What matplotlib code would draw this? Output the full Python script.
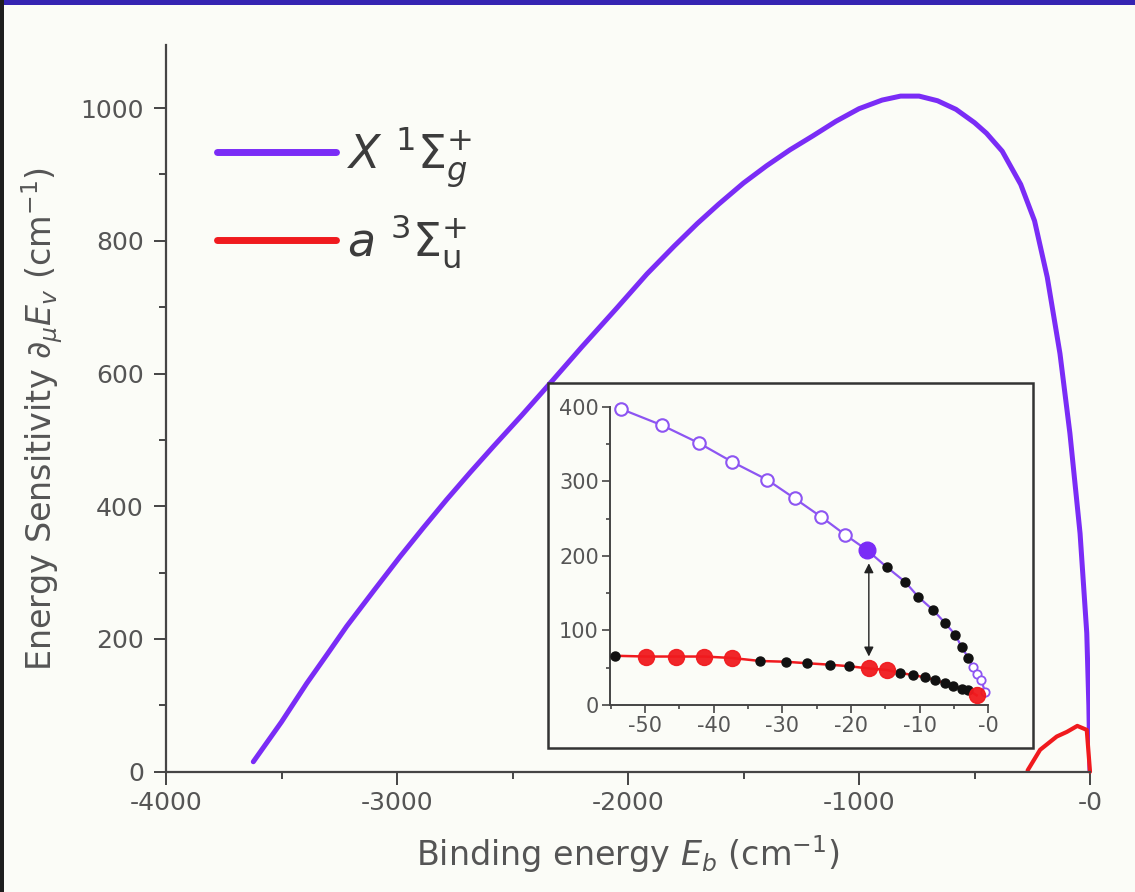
import matplotlib
matplotlib.use("Agg")
import matplotlib.pyplot as plt
from matplotlib.patches import Rectangle
from matplotlib.ticker import FixedLocator, MultipleLocator

plt.rcParams['font.family'] = ['DejaVu Sans']
plt.rcParams['mathtext.fontset'] = 'dejavusans'

# ---------------- data (main panel) ----------------
x_state_eb = [-3622, -3500, -3391, -3300, -3218, -3100, -2987, -2885, -2785, -2683,
              -2583, -2460, -2338, -2200, -2050, -1918, -1800, -1700, -1608, -1500,
              -1400, -1299, -1200, -1100, -1000, -900, -820, -740, -660, -580,
              -500, -448, -380, -300, -240, -185, -130, -87, -43, -14, -5, 0]
x_state_sens = [15, 75, 133, 178, 219, 273, 324, 368, 410, 451,
                490, 537, 585, 640, 698, 750, 792, 826, 855, 887,
                913, 937, 958, 980, 999, 1012, 1018, 1018, 1011, 998,
                978, 962, 935, 885, 830, 745, 630, 510, 359, 209, 100, 0]

a_state_eb = [-270, -216, -144, -100, -55, -14, 0]
a_state_sens = [2, 33, 53, 60, 69, 63, 0]

main_xticks = [-4000, -3000, -2000, -1000, 0]
main_xticklabels = ['-4000', '-3000', '-2000', '-1000', '-0']
main_yticks = [0, 200, 400, 600, 800, 1000]
main_yticklabels = ['0', '200', '400', '600', '800', '1000']

legend_labels = [r'$X\ ^{1}\Sigma_{g}^{+}$', r'$a\ ^{3}\Sigma_{\mathrm{u}}^{+}$']

# ---------------- data (inset) ----------------
ins_x_open_eb = [-53.5, -47.5, -42.1, -37.3, -32.2, -28.2, -24.3, -20.8]
ins_x_open_sens = [397, 375, 351, 326, 302, 277, 252, 228]
ins_x_big_eb = [-17.7]
ins_x_big_sens = [208]
ins_x_dot_eb = [-14.8, -12.1, -10.2, -8.0, -6.3, -4.8, -3.9, -2.9]
ins_x_dot_sens = [185, 165, 145, 127, 110, 94, 78, 63]
ins_x_small_eb = [-2.2, -1.6, -1.0, -0.5]
ins_x_small_sens = [51, 42, 33, 18]

ins_a_big_eb = [-49.9, -45.5, -41.4, -37.3, -17.4, -14.8, -1.7]
ins_a_big_sens = [65, 65, 65, 63, 49, 47, 13]
ins_a_dot_eb = [-54.3, -33.2, -29.5, -26.4, -23.0, -20.3, -12.8, -10.9, -9.2,
                -7.7, -6.3, -5.1, -3.9, -2.9]
ins_a_dot_sens = [66, 59, 58, 56, 54, 52, 43, 40, 37, 33.5, 29, 25.5, 22, 20]

arrow_eb = -17.4
arrow_top = 190
arrow_bottom = 65

ins_xticks = [-50, -40, -30, -20, -10, 0]
ins_xticklabels = ['-50', '-40', '-30', '-20', '-10', '-0']
ins_yticks = [0, 100, 200, 300, 400]
ins_yticklabels = ['0', '100', '200', '300', '400']

# ---------------- style ----------------
BG = '#fbfcf7'
PURPLE = '#7a2cf6'
IPURPLE = '#8d55f2'
RED = '#f01a1e'
AXC = '#454545'
TXT = '#555555'

fig = plt.figure(figsize=(11.35, 8.92), dpi=100, facecolor=BG)

# slide decorations
fig.patches.append(Rectangle((0, 1 - 5 / 892), 1, 5 / 892, transform=fig.transFigure,
                             facecolor='#3524b2', edgecolor='none', zorder=0))
fig.patches.append(Rectangle((0, 0), 4 / 1135, 1, transform=fig.transFigure,
                             facecolor='#1e1e1e', edgecolor='none', zorder=0))

ax = fig.add_axes([166 / 1135, 1 - 771.7 / 892, 924 / 1135, (771.7 - 45) / 892])
ax.set_facecolor('none')
ax.plot(x_state_eb, x_state_sens, color=PURPLE, lw=3.6, solid_capstyle='round',
        solid_joinstyle='round', label=legend_labels[0])
ax.plot(a_state_eb, a_state_sens, color=RED, lw=3.0, solid_capstyle='round',
        solid_joinstyle='round', label=legend_labels[1], clip_on=False)

ax.set_xlim(-4000, 0)
ax.set_ylim(0, 1095)
for s in ['top', 'right']:
    ax.spines[s].set_visible(False)
for s in ['left', 'bottom']:
    ax.spines[s].set_color(AXC)
    ax.spines[s].set_linewidth(1.6)

ax.xaxis.set_major_locator(FixedLocator(main_xticks))
ax.set_xticklabels(main_xticklabels)
ax.xaxis.set_minor_locator(MultipleLocator(500))
ax.yaxis.set_major_locator(FixedLocator(main_yticks))
ax.set_yticklabels(main_yticklabels)
ax.yaxis.set_minor_locator(MultipleLocator(100))
ax.tick_params(which='major', direction='out', length=9, width=1.4, color=AXC,
               labelsize=18, labelcolor=TXT)
ax.tick_params(axis='x', which='major', pad=5)
ax.tick_params(axis='y', which='major', pad=7)
ax.tick_params(which='minor', direction='out', length=5, width=1.4, color=AXC)

ax.set_xlabel(r'Binding energy $E_{b}$ (cm$^{-1}$)', fontsize=24, color=TXT)
ax.set_ylabel(r'Energy Sensitivity $\partial_{\mu}E_{v}$ (cm$^{-1}$)', fontsize=24,
              color=TXT)
ax.xaxis.set_label_coords(0.5, -0.084)
ax.yaxis.set_label_coords(-0.109, 0.485)

leg = ax.legend(loc='upper left', bbox_to_anchor=(0.055, 0.89), frameon=False,
                fontsize=33, handlelength=2.6, handletextpad=0.23, labelspacing=0.5,
                borderpad=0, borderaxespad=0)
for line in leg.get_lines():
    line.set_linewidth(5)
for t in leg.get_texts():
    t.set_color('#3c3c3c')

# inset frame
fig.patches.append(Rectangle((548.3 / 1135, 1 - 748.3 / 892), (1033 - 548.3) / 1135,
                             (748.3 - 383.3) / 892, transform=fig.transFigure,
                             facecolor=BG, edgecolor='#333333', lw=1.8, zorder=2))

ins = fig.add_axes([610 / 1135, 1 - 705 / 892, (988.3 - 610) / 1135, (705 - 406.7) / 892])
ins.set_zorder(3)
ins.set_facecolor('none')

x_line_eb = ins_x_open_eb + ins_x_big_eb + ins_x_dot_eb + ins_x_small_eb
x_line_sens = ins_x_open_sens + ins_x_big_sens + ins_x_dot_sens + ins_x_small_sens
ins.plot(x_line_eb, x_line_sens, color=IPURPLE, lw=1.6, zorder=2, clip_on=False)
ins.plot(ins_x_open_eb, ins_x_open_sens, 'o', ms=9, mfc='white', mec=IPURPLE, mew=1.5,
         zorder=3, clip_on=False)
ins.plot(ins_x_small_eb, ins_x_small_sens, 'o', ms=6, mfc='white', mec=IPURPLE, mew=1.3,
         zorder=3, clip_on=False)
ins.plot(ins_x_dot_eb, ins_x_dot_sens, 'o', ms=6.5, color='#111111', zorder=4, clip_on=False)
ins.plot(ins_x_big_eb, ins_x_big_sens, 'o', ms=12, color=PURPLE, zorder=5, clip_on=False)

a_pts = sorted(zip(ins_a_big_eb + ins_a_dot_eb, ins_a_big_sens + ins_a_dot_sens))
ins.plot([p[0] for p in a_pts], [p[1] for p in a_pts], color=RED, lw=1.8, zorder=2,
         clip_on=False)
ins.plot(ins_a_dot_eb, ins_a_dot_sens, 'o', ms=6.5, color='#111111', zorder=4, clip_on=False)
ins.plot(ins_a_big_eb, ins_a_big_sens, 'o', ms=11.5, color=RED, alpha=0.95, zorder=5,
         clip_on=False)

ins.annotate('', xy=(arrow_eb, arrow_top), xytext=(arrow_eb, arrow_bottom),
             arrowprops=dict(arrowstyle='<|-|>', color='#222222', lw=1.0,
                             mutation_scale=14, shrinkA=0, shrinkB=0), zorder=6)

ins.set_xlim(-55.1, 0)
ins.set_ylim(0, 400)
for s in ['top', 'right']:
    ins.spines[s].set_visible(False)
for s in ['left', 'bottom']:
    ins.spines[s].set_color(AXC)
    ins.spines[s].set_linewidth(1.4)
ins.xaxis.set_major_locator(FixedLocator(ins_xticks))
ins.set_xticklabels(ins_xticklabels)
ins.xaxis.set_minor_locator(MultipleLocator(5))
ins.yaxis.set_major_locator(FixedLocator(ins_yticks))
ins.set_yticklabels(ins_yticklabels)
ins.yaxis.set_minor_locator(MultipleLocator(50))
ins.tick_params(which='major', direction='out', length=6, width=1.2, color=AXC,
                labelsize=15, labelcolor=TXT, pad=2)
ins.tick_params(which='minor', direction='out', length=3, width=1.2, color=AXC)

fig.savefig('out.png', dpi=100, facecolor=BG)
